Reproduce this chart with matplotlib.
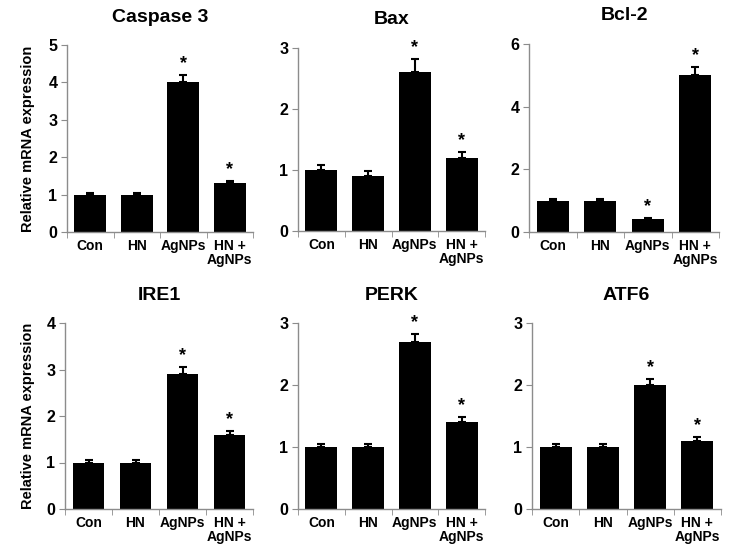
import matplotlib
matplotlib.use("Agg")
import matplotlib.pyplot as plt

plt.rcParams['font.family'] = ['Liberation Sans', 'DejaVu Sans']
plt.rcParams['font.weight'] = 'bold'

groups = ["Con", "HN", "AgNPs", "HN +\nAgNPs"]

titles = ["Caspase 3", "Bax", "Bcl-2", "IRE1", "PERK", "ATF6"]
caspase3 = [1.0, 1.0, 4.0, 1.3]
caspase3_err = [0.05, 0.05, 0.2, 0.06]
bax = [1.0, 0.9, 2.6, 1.2]
bax_err = [0.08, 0.08, 0.22, 0.1]
bcl2 = [1.0, 1.0, 0.4, 5.0]
bcl2_err = [0.05, 0.05, 0.05, 0.28]
ire1 = [1.0, 1.0, 2.9, 1.6]
ire1_err = [0.05, 0.05, 0.15, 0.08]
perk = [1.0, 1.0, 2.7, 1.4]
perk_err = [0.05, 0.05, 0.13, 0.08]
atf6 = [1.0, 1.0, 2.0, 1.1]
atf6_err = [0.05, 0.05, 0.1, 0.06]
stars = [False, False, True, True]

values = [caspase3, bax, bcl2, ire1, perk, atf6]
errors = [caspase3_err, bax_err, bcl2_err, ire1_err, perk_err, atf6_err]
ymax = [5, 3, 6, 4, 3, 3]
ystep = [1, 1, 2, 1, 1, 1]

W, H = 732, 553
# panel boxes in pixels: left, right, top, bottom
boxes = [(67, 253, 45, 232), (298, 485, 48, 231), (529, 719, 44, 232),
         (65, 253, 323, 509), (298, 485, 323, 509), (532, 721, 323, 509)]

fig = plt.figure(figsize=(W / 100, H / 100), dpi=100)
grey = "#8c8c8c"

for i in range(6):
    l, r, t, b = boxes[i]
    ax = fig.add_axes([l / W, 1 - b / H, (r - l) / W, (b - t) / H])
    x = range(len(groups))
    ax.bar(x, values[i], width=0.68, color="black")
    ax.errorbar(x, values[i], yerr=[[0] * 4, errors[i]], fmt="none",
                ecolor="black", elinewidth=1.5, capsize=3, capthick=1.5)
    for j in range(4):
        if stars[j]:
            ax.text(j, values[i][j] + errors[i][j] + ymax[i] * 0.015, "*",
                    ha="center", va="bottom", fontsize=13, fontweight="bold")
    ax.set_xlim(-0.5, 3.5)
    ax.set_ylim(0, ymax[i])
    ax.set_yticks(range(0, ymax[i] + 1, ystep[i]))
    ax.set_xticks(list(x))
    ax.set_xticklabels(groups, fontsize=10, fontweight="bold", linespacing=1.0)
    ax.set_xticks([-0.5, 0.5, 1.5, 2.5, 3.5], minor=True)
    ax.tick_params(axis="x", which="major", length=0, pad=5)
    ax.tick_params(axis="x", which="minor", length=4, color=grey, direction="out")
    ax.tick_params(axis="y", length=4, color=grey, labelsize=11.5, pad=3)
    for lab in ax.get_yticklabels():
        lab.set_fontweight("bold")
    for s in ["top", "right"]:
        ax.spines[s].set_visible(False)
    for s in ["left", "bottom"]:
        ax.spines[s].set_color(grey)
        ax.spines[s].set_linewidth(1.0)
    fig.text((l + r) / 2 / W, 1 - (t - 28) / H, titles[i], ha="center",
             va="center", fontsize=14, fontweight="bold")
    if i % 3 == 0:
        fig.text(28 / W, 1 - (t + b) / 2 / H, "Relative mRNA expression",
                 rotation=90, ha="center", va="center", fontsize=10.5,
                 fontweight="bold")

fig.savefig("out.png", dpi=100, facecolor="white")
